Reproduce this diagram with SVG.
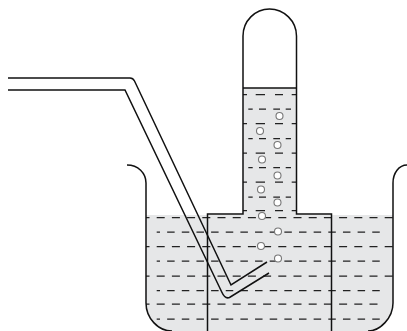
<svg xmlns="http://www.w3.org/2000/svg" width="407" height="331" viewBox="0 0 407 331">
<style>
.water{fill:#e6e7e8;stroke:none}
.d{fill:none;stroke:#222;stroke-width:1.25}
.a{stroke-dasharray:8 7.2;stroke-dashoffset:4.500}
.b{stroke-dasharray:7.500 7.150;stroke-dashoffset:4.200}
.glass{fill:none;stroke:#111;stroke-width:1.5;stroke-linejoin:miter}
.bub{fill:#fff;stroke:#777;stroke-width:1.1}
</style>
<rect width="407" height="331" fill="#fff"/>
<g id="water">
<path class="water" d="M146 215H393V303C393 318 380 331 368 331H172C158 331 146 318 146 303Z"/>
<rect class="water" x="243" y="88" width="53.500" height="130"/>
</g>
<g id="dashes">
<path class="d a" d="M146 217.500H393"/>
<path class="d b" d="M156.700 232H381"/>
<path class="d a" d="M146 246.500H393"/>
<path class="d b" d="M156.700 261H381"/>
<path class="d a" d="M146 276H393"/>
<path class="d b" d="M156.700 290.500H381"/>
<path class="d a" d="M146 304H380"/>
<path class="d b" d="M156.700 319H381"/>
<path class="d" d="M243 94.500H247M255.700 94.500H265M275 94.500H283M291.700 94.500H296M243 123.500H247M255.700 123.500H265M275 123.500H283M291.700 123.500H296M243 153H247M255.700 153H265M275 153H283M291.700 153H296M243 182H247M255.700 182H265M275 182H283M291.700 182H296M243 210.500H247M255.700 210.500H265M275 210.500H283M291.700 210.500H296"/>
<path class="d" d="M248.300 109H252.700M259 109H266M273.300 109H280M285.700 109H291M248.300 138.500H252.700M259 138.500H266M273.300 138.500H280M285.700 138.500H291M248.300 167.500H252.700M259 167.500H266M273.300 167.500H280M285.700 167.500H291M248.300 197H252.700M259 197H266M273.300 197H280M285.700 197H291"/>
</g>
<g id="apparatus">
<path class="glass" d="M127 165C138 165 146 173 146 183V303C146 318 158 331 172 331"/>
<path class="glass" d="M407 165C399 165 393 173 393 183V303C393 318 380 331 368 331"/>
<path class="glass" d="M207.500 331V214H243V36C243 21 255 9 269.500 9C284 9 296.500 21 296.500 36V214H331.500V331"/>
<path class="glass" d="M243 88H296.500"/>
<path class="glass" d="M8 78H130C132 78 133.500 79 134.500 81L231 285L267 262"/>
<path class="glass" d="M8 90H125L221.500 291.500C223.500 296 226 299 229.500 297.500L269 273"/>
</g>
<g id="bubbles">
<circle class="bub" cx="279.500" cy="116" r="3.500"/>
<circle class="bub" cx="260" cy="131" r="3.500"/>
<circle class="bub" cx="277.500" cy="145" r="3.500"/>
<circle class="bub" cx="262" cy="159.500" r="3.500"/>
<circle class="bub" cx="277.500" cy="175.500" r="3.500"/>
<circle class="bub" cx="261" cy="189.500" r="3.500"/>
<circle class="bub" cx="277.500" cy="202.500" r="3.500"/>
<circle class="bub" cx="262" cy="216" r="3.500"/>
<circle class="bub" cx="278" cy="231.500" r="3.500"/>
<circle class="bub" cx="261" cy="246" r="3.500"/>
<circle class="bub" cx="278" cy="258.500" r="3.500"/>
</g>
</svg>
